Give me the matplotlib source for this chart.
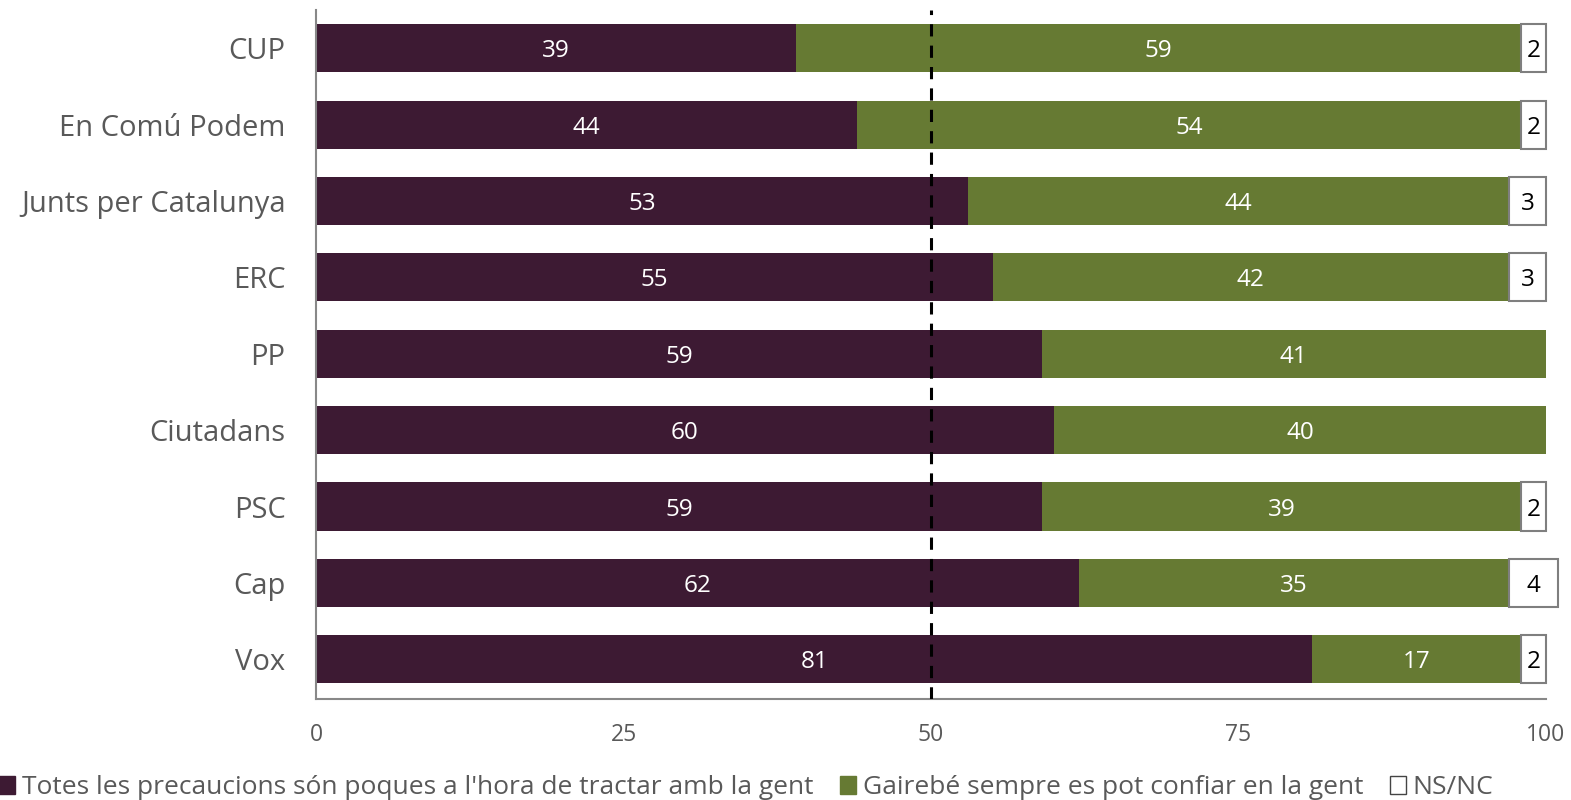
import matplotlib
matplotlib.use("Agg")
import matplotlib.pyplot as plt
from matplotlib.patches import Patch

plt.rcParams['font.family'] = ['Open Sans', 'DejaVu Sans']

categories = ["CUP", "En Comú Podem", "Junts per Catalunya", "ERC", "PP",
              "Ciutadans", "PSC", "Cap", "Vox"]
precaucions = [39, 44, 53, 55, 59, 60, 59, 62, 81]
confiar = [59, 54, 44, 42, 41, 40, 39, 35, 17]
nsnc = [2, 2, 3, 3, 0, 0, 2, 4, 2]
series_names = ["Totes les precaucions són poques a l'hora de tractar amb la gent",
                "Gairebé sempre es pot confiar en la gent", "NS/NC"]
xticks = [0, 25, 50, 75, 100]

c1 = "#3d1a33"
c2 = "#667a33"
grey = "#595959"

fig = plt.figure(figsize=(15.71, 8.0), dpi=100)
ax = fig.add_axes([316/1571, 1-699/800, (1546-316)/1571, (699-10)/800])

n = len(categories)
ys = [n - 1 - i for i in range(n)]
h = 0.63

ax.barh(ys, precaucions, height=h, color=c1)
ax.barh(ys, confiar, left=precaucions, height=h, color=c2)
left3 = [a + b for a, b in zip(precaucions, confiar)]
for y, l, v in zip(ys, left3, nsnc):
    if v > 0:
        ax.barh(y, v, left=l, height=h, color="white", edgecolor="#7f7f7f", linewidth=1.5,
                clip_on=False)

for y, a, b, l, v in zip(ys, precaucions, confiar, left3, nsnc):
    ax.text(a / 2, y, str(a), color="white", ha="center", va="center_baseline", fontsize=17.5)
    ax.text(a + b / 2, y, str(b), color="white", ha="center", va="center_baseline", fontsize=17.5)
    if v > 0:
        ax.text(l + v / 2, y, str(v), color="black", ha="center", va="center_baseline",
                fontsize=17.5)

ax.axvline(50, color="black", linestyle=(0, (4, 3)), linewidth=2.2, zorder=5)

ax.set_xlim(0, 100)
ax.set_ylim(-0.52, n - 0.5)
ax.set_yticks(ys)
ax.set_yticklabels(categories, fontsize=21, color=grey)
ax.set_xticks(xticks)
ax.set_xticklabels([str(t) for t in xticks], fontsize=16.5, color=grey)
ax.tick_params(axis="both", length=0)
ax.tick_params(axis="y", pad=22)
ax.tick_params(axis="x", pad=17)
for s in ["top", "right"]:
    ax.spines[s].set_visible(False)
for s in ["left", "bottom"]:
    ax.spines[s].set_color("#888888")
    ax.spines[s].set_linewidth(1.5)

handles = [Patch(facecolor=c1, edgecolor=c1),
           Patch(facecolor=c2, edgecolor=c2),
           Patch(facecolor="white", edgecolor="#444444", linewidth=1)]
leg = fig.legend(handles, series_names, loc="lower left", bbox_to_anchor=(-0.0158, -0.03),
                 ncol=3, frameon=False, fontsize=19, handlelength=0.62, handleheight=0.62,
                 handletextpad=0.25, columnspacing=1.0)
for t in leg.get_texts():
    t.set_color(grey)

fig.savefig("out.png", dpi=100)
